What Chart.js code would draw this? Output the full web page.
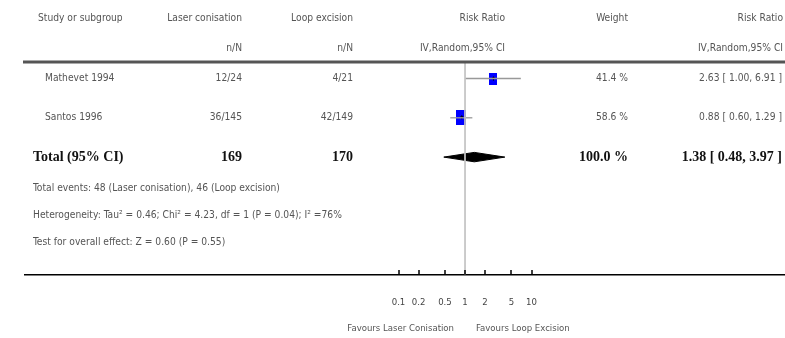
<!DOCTYPE html>
<html>
<head>
<meta charset="utf-8">
<script src="https://cdn.jsdelivr.net/npm/chart.js@4/dist/chart.umd.min.js"></script>
<style>
  html, body { margin: 0; padding: 0; background: #fff; }
  #wrap { width: 785px; height: 338px; position: relative; }
</style>
</head>
<body>
<div id="wrap"><canvas id="forest"></canvas></div>
<script>
// study rows
const studies = ['Mathevet 1994', 'Santos 1996'];
const laserEvents = [12, 36];
const laserTotal = [24, 145];
const loopEvents = [4, 42];
const loopTotal = [21, 149];
const riskRatio = [2.63, 0.88];
const ciLow = [1.00, 0.60];
const ciHigh = [6.91, 1.29];
const weights = [41.4, 58.6];

// pooled row
const totalLabel = 'Total (95% CI)';
const totalLaser = 169;
const totalLoop = 170;
const totalWeight = 100.0;
const totalRR = 1.38;
const totalLow = 0.48;
const totalHigh = 3.97;

// axis
const tickValues = [0.1, 0.2, 0.5, 1, 2, 5, 10];
const tickLabels = ['0.1', '0.2', '0.5', '1', '2', '5', '10'];
const favoursLeft = 'Favours Laser Conisation';
const favoursRight = 'Favours Loop Excision';

const footnotes = [
  'Total events: 48 (Laser conisation), 46 (Loop excision)',
  'Heterogeneity: Tau\u00b2 = 0.46; Chi\u00b2 = 4.23, df = 1 (P = 0.04); I\u00b2 =76%',
  'Test for overall effect: Z = 0.60 (P = 0.55)'
];

const SANS = '"Liberation Sans Narrow", "DejaVu Sans Condensed", "Liberation Sans", sans-serif';
const SERIF = '"Liberation Serif", "DejaVu Serif", serif';
const GREY = '#555';

function box(w, h) {
  const c = document.createElement('canvas');
  c.width = w; c.height = h;
  const g = c.getContext('2d');
  g.fillStyle = '#0000ff';
  g.fillRect(0, 0, w, h);
  g.fillStyle = '#000';
  g.fillRect(Math.floor(w / 2), Math.floor(h / 2) - 2, 1, 4);
  g.fillRect(Math.floor(w / 2) - 1, Math.floor(h / 2) - 1, 3, 1);
  return c;
}
const boxes = [box(8, 12), box(10, 15)];

const fmt = v => v.toFixed(2);
const ciText = (r, l, h) => fmt(r) + ' [ ' + fmt(l) + ', ' + fmt(h) + ' ]';

const datasets = [];
// line of no effect
datasets.push({
  type: 'line', data: [{x: 1, y: -0.42}, {x: 1, y: 5}],
  borderColor: '#c4c4c4', borderWidth: 1, pointRadius: 0
});
// confidence intervals
studies.forEach((s, i) => {
  datasets.push({
    type: 'line', data: [{x: ciLow[i], y: i}, {x: ciHigh[i], y: i}],
    borderColor: '#999', borderWidth: 1.3, pointRadius: 0
  });
});
// point estimates
datasets.push({
  type: 'scatter',
  data: studies.map((s, i) => ({x: riskRatio[i], y: i})),
  pointStyle: boxes, pointRadius: 7
});
// pooled diamond
const tr = studies.length, dh = 0.12;
datasets.push({
  type: 'line',
  data: [{x: totalLow, y: tr}, {x: totalRR, y: tr - dh}, {x: totalHigh, y: tr},
         {x: totalRR, y: tr + dh}, {x: totalLow, y: tr}],
  borderColor: '#000', backgroundColor: '#000', borderWidth: 1,
  fill: 'shape', pointRadius: 0, tension: 0
});

const tablePlugin = {
  id: 'table',
  afterDraw(chart) {
    const ctx = chart.ctx, xs = chart.scales.x, ys = chart.scales.y;
    const area = chart.chartArea;
    ctx.save();
    // heading rule
    ctx.strokeStyle = '#555';
    ctx.lineWidth = 3;
    ctx.beginPath(); ctx.moveTo(area.left - 2, 62); ctx.lineTo(area.right, 62); ctx.stroke();

    // axis ticks pointing up
    ctx.strokeStyle = '#000';
    ctx.lineWidth = 1.5;
    tickValues.forEach(v => {
      const px = Math.round(xs.getPixelForValue(v));
      ctx.beginPath(); ctx.moveTo(px, area.bottom - 5); ctx.lineTo(px, area.bottom); ctx.stroke();
    });

    const put = (t, x, y, align, font, color) => {
      ctx.font = font; ctx.fillStyle = color || GREY;
      ctx.textAlign = align; ctx.textBaseline = 'middle';
      ctx.fillText(t, x, y);
    };
    const f11 = '10.2px ' + SANS;
    // headers
    put('Study or subgroup', 38, 18, 'left', f11);
    put('Laser conisation', 242, 18, 'right', f11);
    put('n/N', 242, 48, 'right', f11);
    put('Loop excision', 353, 18, 'right', f11);
    put('n/N', 353, 48, 'right', f11);
    put('Risk Ratio', 505, 18, 'right', f11);
    put('IV,Random,95% CI', 505, 48, 'right', f11);
    put('Weight', 628, 18, 'right', f11);
    put('Risk Ratio', 783, 18, 'right', f11);
    put('IV,Random,95% CI', 783, 48, 'right', f11);

    // study rows
    studies.forEach((s, i) => {
      const y = ys.getPixelForValue(i);
      put(s, 45, y, 'left', f11);
      put(laserEvents[i] + '/' + laserTotal[i], 242, y, 'right', f11);
      put(loopEvents[i] + '/' + loopTotal[i], 353, y, 'right', f11);
      put(weights[i].toFixed(1) + ' %', 628, y, 'right', f11);
      put(ciText(riskRatio[i], ciLow[i], ciHigh[i]), 782, y, 'right', f11);
    });

    // total row
    const ty = ys.getPixelForValue(tr);
    const fb = 'bold 14px ' + SERIF;
    put(totalLabel, 33, ty, 'left', fb, '#111');
    put(String(totalLaser), 242, ty, 'right', fb, '#111');
    put(String(totalLoop), 353, ty, 'right', fb, '#111');
    put(totalWeight.toFixed(1) + ' %', 628, ty, 'right', fb, '#111');
    put(ciText(totalRR, totalLow, totalHigh), 782, ty, 'right', fb, '#111');

    // footnotes
    footnotes.forEach((t, i) => put(t, 33, 188 + i * 27, 'left', f11));

    // favours labels
    const one = xs.getPixelForValue(1);
    const f10 = '9.5px ' + SANS;
    put(favoursLeft, one - 11, 329, 'right', f10);
    put(favoursRight, one + 11, 329, 'left', f10);
    ctx.restore();
  }
};

// log scale spanning the full table width: 1 sits at x=465, ~66.5 px per decade
const pxPerDecade = 66.5, leftPx = 25, onePx = 465, rightPx = 785;

new Chart(document.getElementById('forest'), {
  type: 'scatter',
  data: { datasets },
  options: {
    responsive: true,
    maintainAspectRatio: false,
    animation: false,
    layout: { autoPadding: false, padding: { left: leftPx, right: 0, top: 62, bottom: 0 } },
    plugins: { legend: { display: false }, tooltip: { enabled: false } },
    scales: {
      x: {
        type: 'logarithmic',
        min: Math.pow(10, -(onePx - leftPx) / pxPerDecade),
        max: Math.pow(10, (rightPx - onePx) / pxPerDecade),
        afterBuildTicks: s => { s.ticks = tickValues.map(v => ({value: v})); },
        afterFit: s => { s.height = 63; s.paddingLeft = 0; s.paddingRight = 0; },
        border: { display: true, color: '#000', width: 1.5 },
        grid: { display: false, drawTicks: false },
        ticks: {
          padding: 22, color: '#444', autoSkip: false, maxRotation: 0,
          font: { family: SANS, size: 9.5 },
          callback: (v, i) => tickLabels[i]
        }
      },
      y: {
        display: false, reverse: true, min: -0.42, max: 5
      }
    }
  },
  plugins: [tablePlugin]
});
</script>
</body>
</html>
